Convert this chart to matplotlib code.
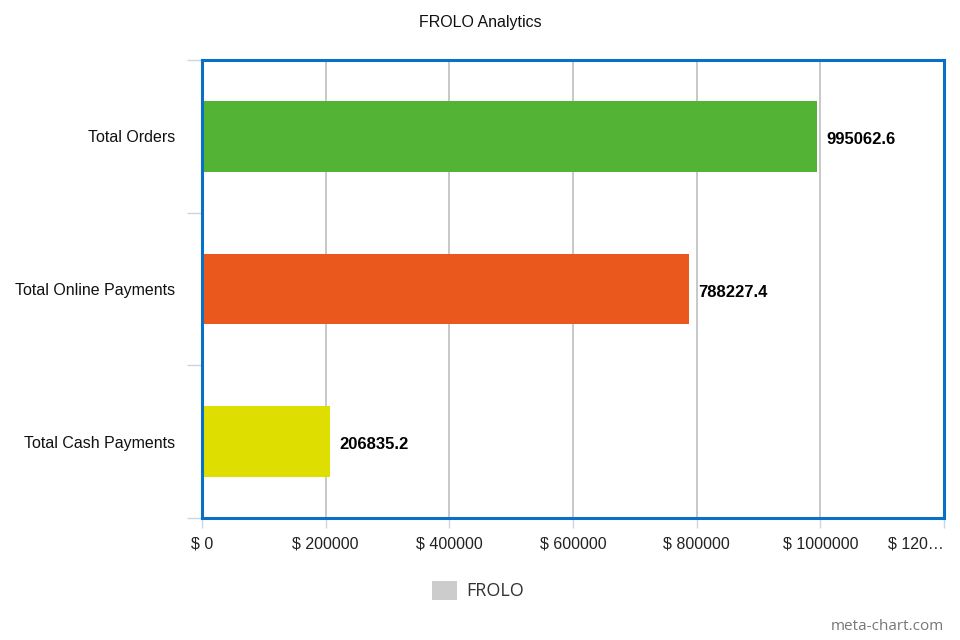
import matplotlib.pyplot as plt
from matplotlib.patches import Rectangle

categories = ["Total Orders", "Total Online Payments", "Total Cash Payments"]
values = [995062.6, 788227.4, 206835.2]
bar_colors = ["#52b335", "#eb581d", "#dede00"]
x_ticks = [0, 200000, 400000, 600000, 800000, 1000000, 1200000]
x_tick_labels = ["$ 0", "$ 200000", "$ 400000", "$ 600000", "$ 800000", "$ 1000000", "$ 120…"]
legend_label = "FROLO"

plt.rcParams["font.family"] = ["Liberation Sans", "DejaVu Sans"]

fig = plt.figure(figsize=(9.6, 6.4), dpi=100)
ax = fig.add_axes([202 / 960, 1 - 518 / 640, 742 / 960, 458 / 640])

ypos = list(range(len(categories)))
ax.barh(ypos, values, height=0.465, color=bar_colors, zorder=3)
ax.set_xlim(0, 1200000)
ax.set_ylim(len(categories) - 0.5, -0.5)

for y, v in zip(ypos, values):
	ax.text(v + 15000, y + 0.02, f"{v:.1f}", va="center", ha="left",
			fontsize=12, fontweight="bold", color="#000000", zorder=4)

# grid + x ticks
ax.set_xticks(x_ticks)
ax.set_xticklabels(x_tick_labels, fontsize=11.5, color="#222222")
ax.get_xticklabels()[-1].set_horizontalalignment("right")
ax.xaxis.grid(True, color="#c4c4c4", linewidth=1.3, zorder=0)
ax.tick_params(axis="x", length=7, width=1, color="#c8d6e6", pad=6)

# y: boundary ticks (major), labels at centers (minor)
ax.set_yticks([-0.5, 0.5, 1.5, 2.5])
ax.set_yticklabels([])
ax.tick_params(axis="y", which="major", length=11, width=1, color="#c8d6e6")
ax.set_yticks(ypos, minor=True)
ax.set_yticklabels(categories, minor=True, fontsize=11.5, color="#111111")
ax.tick_params(axis="y", which="minor", length=0, pad=19.5)

for s in ax.spines.values():
	s.set_color("#0a70c6")
	s.set_linewidth(2.2)
	s.set_zorder(5)

fig.text(0.5, 1 - 22 / 640, "FROLO Analytics", ha="center", va="center",
		 fontsize=11.5, color="#111111")

# legend
fig.patches.append(Rectangle((432 / 960, 1 - 600 / 640), 25 / 960, 19 / 640,
							 transform=fig.transFigure, facecolor="#cccccc",
							 edgecolor="none"))
fig.text(466 / 960, 1 - 591 / 640, legend_label, ha="left", va="center",
		 fontsize=13, color="#333333", family=["Open Sans", "DejaVu Sans"])

fig.text(944 / 960, 1 - 627 / 640, "meta-chart.com", ha="right", va="center",
		 fontsize=11, color="#777777", family=["Open Sans", "DejaVu Sans"])

fig.savefig("out.png", dpi=100)
